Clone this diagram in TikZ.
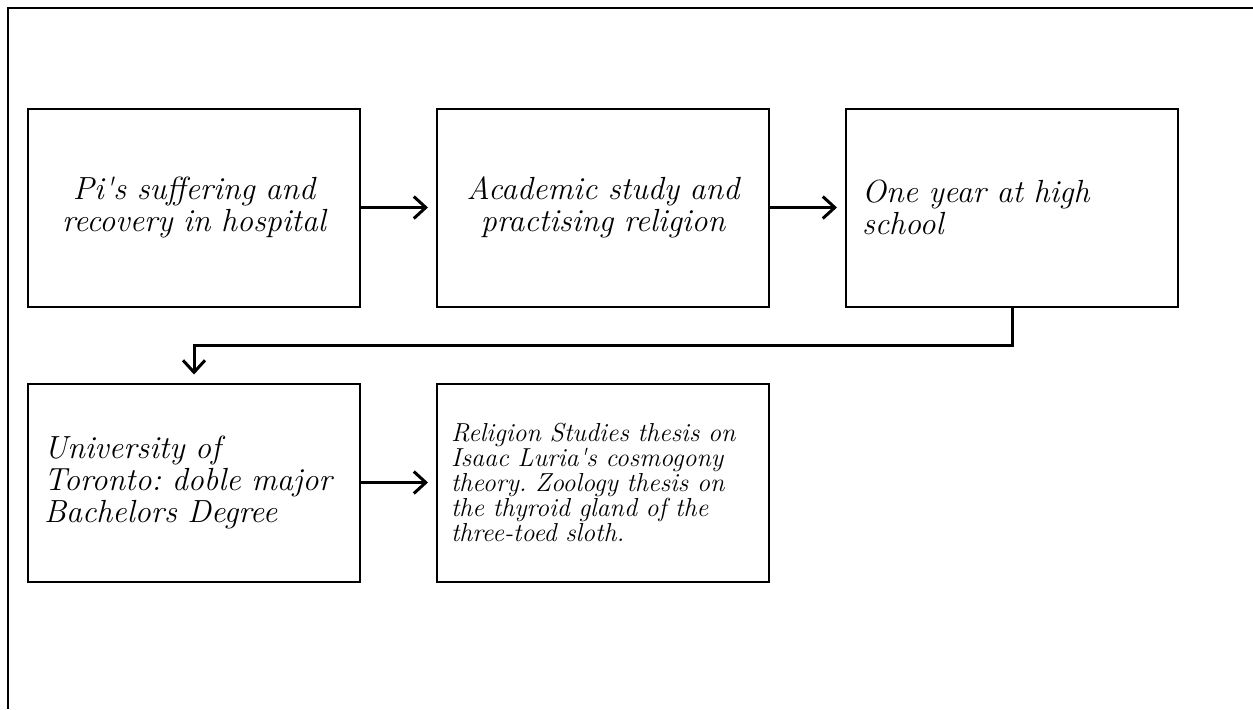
\documentclass[tikz,border=0pt]{standalone}
\usepackage{fontspec}
\usepackage{tikz}
\usetikzlibrary{arrows.meta,positioning}
\frenchspacing
\definecolor{dfblack}{RGB}{0,0,0}
\tikzstyle{arrow} = [line width=1.5pt,-{Straight Barb[length=6pt,width=11pt,line width=1.5pt]},shorten >=4pt,color=dfblack]
\tikzstyle{stagebox} = [rectangle, minimum width=166pt, minimum height=99pt, text width=150pt, inner xsep=8pt, align=center, draw=dfblack, line width=1pt, font=\fontsize{16}{16}\selectfont\itshape]
\tikzstyle{stageleft} = [stagebox, align=left]
\tikzstyle{stagesmall} = [stagebox, align=left, inner xsep=7pt, text width=152pt, font=\fontsize{13}{12.5}\selectfont\itshape]

\begin{document}
\begin{tikzpicture}[node distance=37.5pt and 37.5pt]
    \useasboundingbox (0,0) rectangle (626.5pt,-354.5pt);
    % page frame, cut off at right and bottom
    \draw[line width=1pt] (4pt,-354.5pt) -- (4pt,-4pt) -- (626.5pt,-4pt);

    \node[stagebox, anchor=north west] (hospital) at (13.5pt,-53.75pt) {Pi\textquotesingle s suffering and\\recovery in hospital};
    \node[stagebox, right=of hospital] (religion) {Academic study and\\practising religion};
    \node[stageleft, right=of religion] (hschool) {One year at high\\school};
    \node[stageleft, below=of hospital] (toronto) {University of\\Toronto: doble major\\Bachelors Degree};
    \node[stagesmall, right=of toronto] (thesis) {Religion Studies thesis on\\Isaac Luria\textquotesingle s cosmogony\\theory. Zoology thesis on\\the thyroid gland of the\\three-toed sloth.};

    \draw[arrow] (hospital) -- (religion);
    \draw[arrow] (religion) -- (hschool);
    \draw[arrow] (hschool.south) -- ++(0,-19pt) -| (toronto.north);
    \draw[arrow] (toronto) -- (thesis);
\end{tikzpicture}
\end{document}
